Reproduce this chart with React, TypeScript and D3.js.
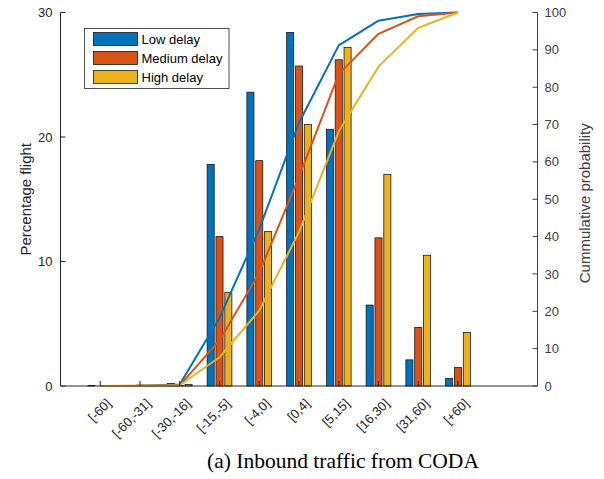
import * as d3 from 'd3';

const WIDTH = 604;
const HEIGHT = 479;
const PLOT = { left: 60.5, right: 537.5, top: 12.5, bottom: 386 };

const categories = [
  '[-60]',
  '[-60,-31]',
  '[-30,-16]',
  '[-15,-5]',
  '[-4,0]',
  '[0,4]',
  '[5,15]',
  '[16,30]',
  '[31,60]',
  '[+60]',
];
const seriesNames = ['Low delay', 'Medium delay', 'High delay'];
const seriesColors = ['#0072BD', '#D95319', '#EDB120'];

// percentage of flights per bin
const lowPct = [0.05, 0.05, 0.2, 17.8, 23.6, 28.4, 20.6, 6.5, 2.1, 0.6];
const mediumPct = [0, 0.07, 0.05, 12.0, 18.1, 25.7, 26.2, 11.9, 4.7, 1.5];
const highPct = [0, 0.05, 0.13, 7.5, 12.4, 21.0, 27.2, 17.0, 10.5, 4.3];

// cumulative probability
const lowCum = [0, 0.05, 0.4, 18.3, 42, 70.5, 91.2, 97.8, 99.6, 100];
const mediumCum = [0, 0.05, 0.15, 12.2, 30.3, 56, 83.5, 94.3, 99, 100];
const highCum = [0, 0, 0.2, 7.7, 20.2, 41.2, 68.2, 85.5, 95.9, 100];

const leftTicks = [0, 10, 20, 30];
const rightTicks = [0, 10, 20, 30, 40, 50, 60, 70, 80, 90, 100];

const pctSeries = [lowPct, mediumPct, highPct];
const cumSeries = [lowCum, mediumCum, highCum];

const AXIS_COLOR = '#262626';
const FONT = "'Liberation Sans', Arial, sans-serif";

export default function App() {
  const x = d3.scaleLinear().domain([0, 12]).range([PLOT.left, PLOT.right]);
  const yLeft = d3.scaleLinear().domain([0, 30]).range([PLOT.bottom, PLOT.top]);
  const yRight = d3.scaleLinear().domain([0, 100]).range([PLOT.bottom, PLOT.top]);

  // matlab-style grouped bars: 3 series per category
  const groupWidth = 2 / 3;
  const barWidth = (0.8 * groupWidth) / 3;
  const offsets = [-groupWidth / 3, 0, groupWidth / 3];

  const line = d3
    .line<number>()
    .x((_, i) => x(i + 1))
    .y((d) => yRight(d));

  return (
    <svg
      width={WIDTH}
      height={HEIGHT}
      style={{ position: 'absolute', left: 0, top: 0, background: '#fff' }}
      fontFamily={FONT}
    >
      {/* bars */}
      {pctSeries.map((values, s) => (
        <g key={seriesNames[s]}>
          {values.map((v, i) => {
            const x0 = x(i + 1 + offsets[s] - barWidth / 2);
            const x1 = x(i + 1 + offsets[s] + barWidth / 2);
            return (
              <rect
                key={categories[i]}
                x={x0}
                y={yLeft(v)}
                width={x1 - x0}
                height={yLeft(0) - yLeft(v)}
                fill={seriesColors[s]}
                stroke="#1a1a1a"
                strokeWidth={0.8}
              />
            );
          })}
        </g>
      ))}

      {/* cumulative lines */}
      {cumSeries.map((values, s) => (
        <path
          key={seriesNames[s]}
          d={line(values) ?? ''}
          fill="none"
          stroke={seriesColors[s]}
          strokeWidth={2}
          strokeLinejoin="round"
        />
      ))}

      {/* axes */}
      <line x1={PLOT.left} x2={PLOT.right} y1={PLOT.bottom} y2={PLOT.bottom} stroke={AXIS_COLOR} />
      <line x1={PLOT.left} x2={PLOT.left} y1={PLOT.top} y2={PLOT.bottom} stroke={AXIS_COLOR} />
      <line x1={PLOT.right} x2={PLOT.right} y1={PLOT.top} y2={PLOT.bottom} stroke="#404040" />

      {leftTicks.map((t) => (
        <g key={`l${t}`}>
          <line x1={PLOT.left} x2={PLOT.left + 5} y1={yLeft(t)} y2={yLeft(t)} stroke={AXIS_COLOR} />
          <text
            x={PLOT.left - 8}
            y={yLeft(t)}
            dy="0.35em"
            textAnchor="end"
            fontSize={13}
            fill={AXIS_COLOR}
          >
            {t}
          </text>
        </g>
      ))}

      {rightTicks.map((t) => (
        <g key={`r${t}`}>
          <line x1={PLOT.right - 5} x2={PLOT.right} y1={yRight(t)} y2={yRight(t)} stroke="#404040" />
          <text
            x={PLOT.right + 7}
            y={yRight(t)}
            dy="0.35em"
            textAnchor="start"
            fontSize={13}
            fill="#404040"
          >
            {t}
          </text>
        </g>
      ))}

      {categories.map((c, i) => {
        const cx = x(i + 1);
        return (
          <g key={c}>
            <line x1={cx} x2={cx} y1={PLOT.bottom} y2={PLOT.bottom - 5} stroke={AXIS_COLOR} />
            <text
              transform={`translate(${cx + 8.5},${PLOT.bottom + 15}) rotate(-45)`}
              dy="0.35em"
              textAnchor="end"
              fontSize={13}
              fill={AXIS_COLOR}
            >
              {c}
            </text>
          </g>
        );
      })}

      {/* axis labels */}
      <text
        transform={`translate(26,${(PLOT.top + PLOT.bottom) / 2}) rotate(-90)`}
        textAnchor="middle"
        dy="0.35em"
        fontSize={15}
        fill={AXIS_COLOR}
      >
        Percentage flight
      </text>
      <text
        transform={`translate(585,${(PLOT.top + PLOT.bottom) / 2 + 4}) rotate(-90)`}
        textAnchor="middle"
        dy="0.35em"
        fontSize={15}
        fill="#404040"
      >
        Cummulative probability
      </text>

      {/* legend */}
      <g>
        <rect x={84.5} y={28.5} width={144.5} height={60} fill="#fff" stroke={AXIS_COLOR} strokeWidth={0.8} />
        {seriesNames.map((n, s) => (
          <g key={n} transform={`translate(0,${s * 19})`}>
            <rect x={93.5} y={32.5} width={44} height={13} fill={seriesColors[s]} stroke="#1a1a1a" strokeWidth={0.8} />
            <text x={141.5} y={39} dy="0.35em" fontSize={13} fill="#000">
              {n}
            </text>
          </g>
        ))}
      </g>

      {/* caption */}
      <text
        x={343}
        y={468}
        textAnchor="middle"
        fontSize={21.5}
        fontFamily="'Liberation Serif', 'Times New Roman', serif"
        fill="#000"
      >
        (a) Inbound traffic from CODA
      </text>
    </svg>
  );
}
